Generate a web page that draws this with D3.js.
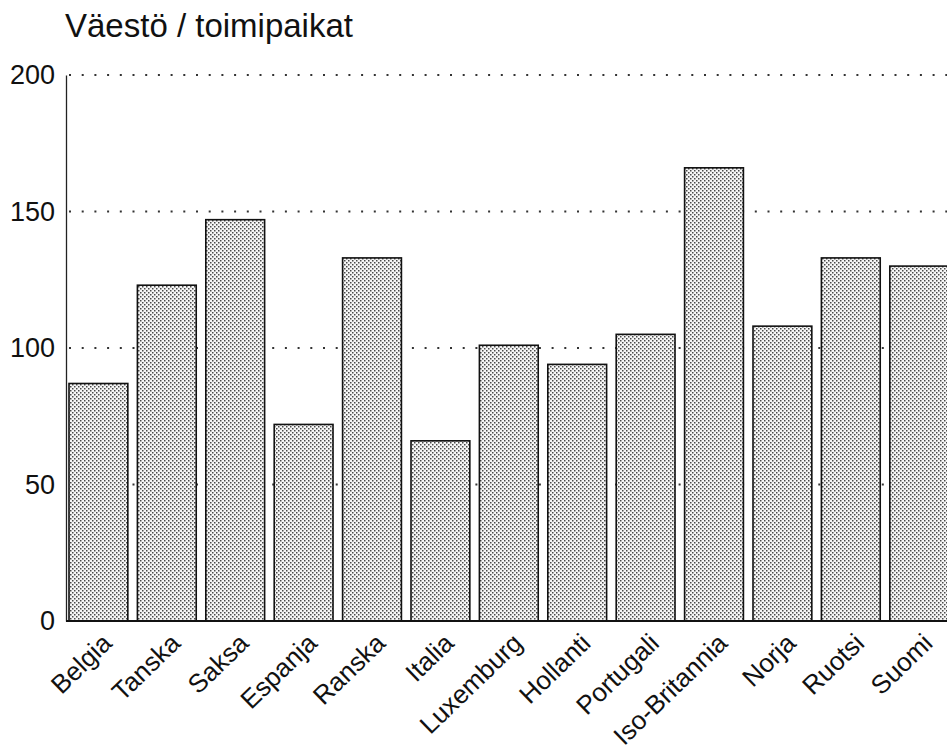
<!DOCTYPE html>
<html>
<head>
<meta charset="utf-8">
<script src="https://cdn.jsdelivr.net/npm/d3@7"></script>
<style>
  html, body { margin: 0; padding: 0; background: #fff; }
  svg { display: block; }
  text { font-family: "Liberation Sans", Arial, Helvetica, sans-serif; fill: #111; }
</style>
</head>
<body>
<svg id="chart" width="947" height="753"></svg>
<script>
const title = "Väestö / toimipaikat";
const categories = ["Belgia", "Tanska", "Saksa", "Espanja", "Ranska", "Italia", "Luxemburg", "Hollanti", "Portugali", "Iso-Britannia", "Norja", "Ruotsi", "Suomi"];
const values = [87, 123, 147, 72, 133, 66, 101, 94, 105, 166, 108, 133, 130];
const yTicks = [0, 50, 100, 150, 200];

const svg = d3.select("#chart");
const W = 947, H = 753;
const axisX = 66, y0 = 621, y200 = 75;

const defs = svg.append("defs");
const pat = defs.append("pattern")
  .attr("id", "stipple").attr("patternUnits", "userSpaceOnUse")
  .attr("width", 4).attr("height", 4);
pat.append("rect").attr("width", 4).attr("height", 4).attr("fill", "#f6f6f6");
pat.append("rect").attr("x", 0).attr("y", 0).attr("width", 1.5).attr("height", 1.5).attr("fill", "#4a4a4a");
pat.append("rect").attr("x", 2).attr("y", 2).attr("width", 1.5).attr("height", 1.5).attr("fill", "#4a4a4a");

const y = d3.scaleLinear().domain([0, 200]).range([y0, y200]);
const x = d3.scaleBand().domain(categories)
  .range([69, 69 + 68.4 * 12.86]).paddingInner(0.14).paddingOuter(0);

// Title
svg.append("text").attr("x", 65).attr("y", 37)
  .attr("font-size", 33).attr("fill", "#1a1a1a").text(title);

// Gridlines (dotted)
svg.append("g").selectAll("line").data(yTicks.filter(d => d > 0)).join("line")
  .attr("x1", axisX + 3).attr("x2", W)
  .attr("y1", d => y(d)).attr("y2", d => y(d))
  .attr("stroke", "#333").attr("stroke-width", 2)
  .attr("stroke-dasharray", "2,10.7");

// Y axis via d3.axisLeft
const yAxis = d3.axisLeft(y).tickValues(yTicks).tickSize(0).tickPadding(11);
const gy = svg.append("g").attr("transform", `translate(${axisX},0)`).call(yAxis);
gy.select(".domain").attr("stroke", "#222").attr("stroke-width", 1.3);
gy.selectAll("text").attr("font-size", 27).attr("fill", "#1a1a1a")
  .style("font-family", '"Liberation Sans", Arial, sans-serif');

// Bars
svg.append("g").selectAll("rect").data(values).join("rect")
  .attr("x", (d, i) => x(categories[i]))
  .attr("y", d => y(d))
  .attr("width", x.bandwidth())
  .attr("height", d => y0 - y(d))
  .attr("fill", "url(#stipple)")
  .attr("stroke", "#111").attr("stroke-width", 1.6);

// Baseline
svg.append("line").attr("x1", axisX).attr("x2", W)
  .attr("y1", y0).attr("y2", y0)
  .attr("stroke", "#111").attr("stroke-width", 2);

// X labels (rotated)
const xAxis = d3.axisBottom(x).tickSize(0).tickPadding(0);
const gx = svg.append("g").attr("transform", `translate(0,${y0})`).call(xAxis);
gx.select(".domain").remove();
gx.selectAll(".tick text")
  .attr("font-size", 26).attr("fill", "#1a1a1a")
  .style("font-family", '"Liberation Sans", Arial, sans-serif')
  .attr("text-anchor", "end")
  .attr("dy", 0).attr("y", 0)
  .attr("transform", "translate(15,24) rotate(-44)");
</script>
</body>
</html>
